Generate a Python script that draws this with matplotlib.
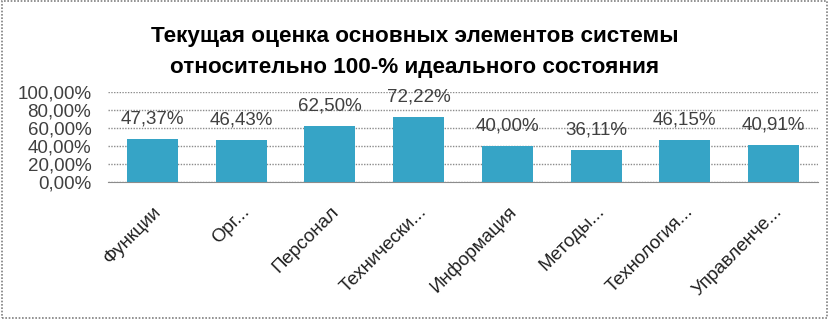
# bar chart: current evaluation of system elements vs 100% ideal state

import matplotlib.pyplot as plt
from matplotlib.patches import Rectangle

categories = ['Функции', 'Орг...', 'Персонал', 'Технически...', 'Информация',
              'Методы...', 'Технология...', 'Управленче...']
values = [47.37, 46.43, 62.50, 72.22, 40.00, 36.11, 46.15, 40.91]
y_ticks = [0, 20, 40, 60, 80, 100]

def pct(v):
    return ('%.2f' % v).replace('.', ',') + '%'

plt.rcParams['font.family'] = ['Liberation Sans', 'DejaVu Sans']

fig = plt.figure(figsize=(8.29, 3.19), dpi=100)
ax = fig.add_axes([0.1303, 0.4295, 0.8564, 0.282])

x = list(range(len(categories)))
ax.bar(x, values, width=0.575, color='#36a4c6', zorder=3)

# data labels sit a fixed distance above each bar
for xi, v in zip(x, values):
    ax.annotate(pct(v), (xi, v), xytext=(0, 14.4), textcoords='offset points',
                ha='center', va='center', fontsize=13.5, color='#404040', zorder=4)

ax.set_xlim(-0.5, len(categories) - 0.5)
ax.set_ylim(0, 100)
ax.set_yticks(y_ticks)
ax.set_yticklabels([pct(t) for t in y_ticks], fontsize=13.5, color='#404040')
ax.set_xticks(x)
ax.set_xticklabels(categories, rotation=45, ha='right', rotation_mode='anchor',
                   fontsize=13.5, color='#202020')
ax.tick_params(axis='y', length=0, pad=12)
ax.tick_params(axis='x', length=0, pad=15)
for s in ['left', 'right', 'top']:
    ax.spines[s].set_visible(False)
ax.spines['bottom'].set_color('#8c8c8c')
ax.yaxis.grid(True, color='#8c8c8c', linestyle=(0, (1, 1)), linewidth=1, zorder=0)

fig.text(0.5, 1 - 52 / 319, 'Текущая оценка основных элементов системы\n'
         'относительно 100-% идеального состояния',
         ha='center', va='center', fontsize=16.2, fontweight='bold',
         linespacing=1.6, color='black')

# dotted frame round the whole picture
fig.patches.append(Rectangle((0.002, 0.003), 0.996, 0.994, transform=fig.transFigure,
                             fill=False, edgecolor='#808080', linestyle=(0, (1, 1)),
                             linewidth=1.2))

fig.savefig('out.png', dpi=100)
